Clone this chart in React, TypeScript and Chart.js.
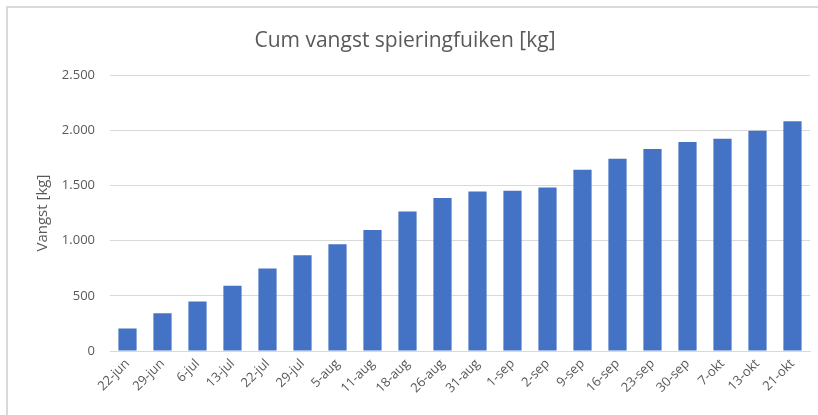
import React, { useEffect, useRef } from "react";
import { Chart, registerables } from "chart.js";

Chart.register(...registerables);

const categories = [
  "22-jun", "29-jun", "6-jul", "13-jul", "22-jul", "29-jul", "5-aug", "11-aug", "18-aug", "26-aug",
  "31-aug", "1-sep", "2-sep", "9-sep", "16-sep", "23-sep", "30-sep", "7-okt", "13-okt", "21-okt",
];
const cumVangst = [
  203, 342, 448, 591, 748, 867, 967, 1097, 1264, 1388,
  1445, 1452, 1482, 1643, 1743, 1830, 1894, 1924, 1997, 2082,
];
const yMin = 0;
const yMax = 2500;
const yStep = 500;

const titleText = "Cum vangst spieringfuiken [kg]";
const yTitleText = "Vangst [kg]";

function fmt(v: number): string {
  const s = Math.round(v).toString();
  return s.replace(/\B(?=(\d{3})+(?!\d))/g, ".");
}

export default function App() {
  const ref = useRef<HTMLCanvasElement | null>(null);

  useEffect(() => {
    document.body.style.margin = "0";
    const canvas = ref.current;
    if (!canvas) return;
    const grey = "#595959";
    const chart = new Chart(canvas, {
      type: "bar",
      data: {
        labels: categories,
        datasets: [
          {
            data: cumVangst,
            backgroundColor: "#4472C4",
            borderWidth: 0,
            barPercentage: 0.52,
            categoryPercentage: 1,
          },
        ],
      },
      options: {
        animation: false,
        responsive: false,
        maintainAspectRatio: false,
        layout: { padding: { left: 0, right: 8, top: 0, bottom: 0 } },
        plugins: {
          legend: { display: false },
          tooltip: { enabled: false },
          title: {
            display: true,
            text: titleText,
            color: grey,
            font: { family: "'Open Sans', sans-serif", size: 21, weight: "normal" },
            padding: { top: 28, bottom: 22 },
          },
        },
        scales: {
          x: {
            grid: { display: false, drawTicks: false },
            border: { display: true, color: "#d9d9d9", width: 1 },
            ticks: {
              color: grey,
              font: { family: "'Open Sans', sans-serif", size: 13 },
              maxRotation: 45,
              minRotation: 45,
              autoSkip: false,
              padding: 5,
            },
            afterFit: (scale: any) => {
              scale.height = 64;
            },
          },
          y: {
            min: yMin,
            max: yMax,
            grid: { color: "#d9d9d9", drawTicks: false, lineWidth: 1 },
            border: { display: false },
            ticks: {
              stepSize: yStep,
              color: grey,
              font: { family: "'Open Sans', sans-serif", size: 13 },
              padding: 15,
              callback: (v: any) => fmt(Number(v)),
            },
            title: {
              display: true,
              text: yTitleText,
              color: grey,
              font: { family: "'Open Sans', sans-serif", size: 15 },
              padding: { top: 34, bottom: 0 },
            },
            afterFit: (scale: any) => {
              scale.width = 110;
            },
          },
        },
      },
    });
    return () => chart.destroy();
  }, []);

  return (
    <div style={{ position: "relative", width: 818, height: 415, background: "#fff" }}>
      <div
        style={{
          position: "absolute",
          left: 6,
          top: 6,
          width: 812,
          height: 409,
          borderTop: "2px solid #d9d9d9",
          borderLeft: "2px solid #d9d9d9",
          boxSizing: "border-box",
        }}
      />
      <canvas ref={ref} width={818} height={415} style={{ position: "absolute", left: 0, top: 0 }} />
    </div>
  );
}
